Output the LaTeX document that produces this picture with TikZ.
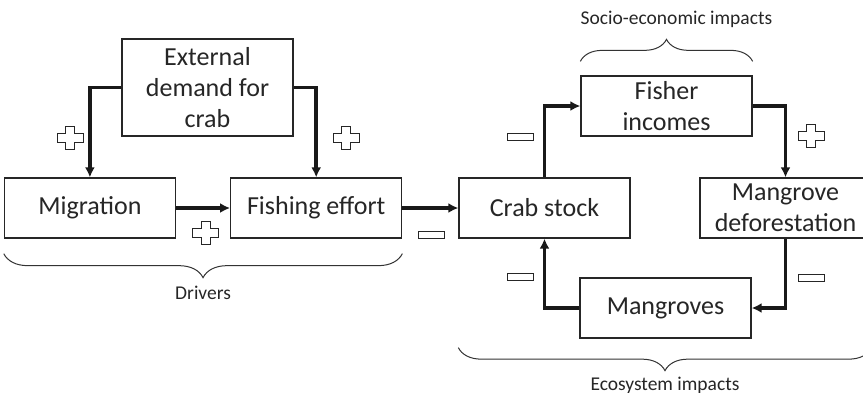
\documentclass[tikz,border=0pt]{standalone}
\usepackage{fontspec}
\setmainfont{Carlito}
\usetikzlibrary{arrows.meta,positioning,decorations.pathreplacing}

\begin{document}
\begin{tikzpicture}[
    x=1pt, y=-1pt,
    >={Latex[length=10pt,width=10pt]},
    font=\fontsize{26}{31}\selectfont,
    text=black!85,
    box/.style={
		rectangle,
		draw=black!85,
		line width=1.3pt,
		align=center,
		minimum width=171pt,
		minimum height=60pt,
		inner sep=1pt,
		fill=white
	},
	link/.style={
		->,
		line width=3.5pt,
		draw=black!90
	},
	grouping/.style={
		decorate,
		draw=black!80,
		line width=1pt,
		decoration={brace,amplitude=24pt}
	},
	caption/.style={
		font=\fontsize{19.5}{22}\selectfont
	},
	plussign/.pic={
		\draw [line width=1pt, draw=black!85, fill=white]
		(-4.5,-11.5) -- (4.5,-11.5) -- (4.5,-4.5) -- (13,-4.5) -- (13,4.5)
		-- (4.5,4.5) -- (4.5,11.5) -- (-4.5,11.5) -- (-4.5,4.5) -- (-13,4.5)
		-- (-13,-4.5) -- (-4.5,-4.5) -- cycle;
	},
	minussign/.pic={
		\draw [line width=1pt, draw=black!85, fill=white] (-13,-3.5) rectangle (13,3.5);
	}
  ]
  \useasboundingbox (0,0) rectangle (863,392);

    % the boxes
  \node [box] (crab) at (544.5,208) {Crab stock};
  \node [box, left=56pt of crab] (fishing) {Fishing effort};
  \node [box, left=54pt of fishing] (migration) {Migration};
  \node [box, minimum height=97pt] (demand) at (207.5,87.5) {External\\demand for\\crab};
  \node [box] (fisher) at (666.5,106) {Fisher\\incomes};
  \node [box] (mangdef) at (785.5,208) {Mangrove\\deforestation};
  \node [box] (mangroves) at (665.5,308) {Mangroves};

    % the links
  \draw [link] (demand.west) -| (migration.north);
  \draw [link] (demand.east) -| (fishing.north);
  \draw [link] (migration) -- (fishing);
  \draw [link] (fishing) -- (crab);
  \draw [link] (crab.north) |- (fisher.west);
  \draw [link] (fisher.east) -| (mangdef.north);
  \draw [link] (mangdef.south) |- (mangroves.east);
  \draw [link] (mangroves.west) -| (crab.south);

    % signs
  \pic at (70,137.5) {plussign};
  \pic at (346,137.5) {plussign};
  \pic at (205.5,233) {plussign};
  \pic at (431,235) {minussign};
  \pic at (520.5,136.5) {minussign};
  \pic at (811,135.5) {plussign};
  \pic at (811,278) {minussign};
  \pic at (520.5,277) {minussign};

    % braces
  \coordinate (ecoL) at (crab.west |- mangroves.south);
  \coordinate (ecoR) at (mangdef.east |- mangroves.south);
  \draw [grouping, decoration={mirror}] ([yshift=-15pt]migration.south west)
    -- node [caption, yshift=-39pt] {Drivers} ([yshift=-15pt]fishing.south east);
  \draw [grouping, decoration={amplitude=22pt}] ([yshift=14pt]fisher.north west)
    -- node [caption, yshift=42pt, xshift=10pt] {Socio-economic impacts} ([yshift=14pt]fisher.north east);
  \draw [grouping, decoration={mirror,amplitude=23pt}] ([yshift=-9pt]ecoL)
    -- node [caption, yshift=-38pt] {Ecosystem impacts} ([yshift=-9pt]ecoR);

\end{tikzpicture}
\end{document}
